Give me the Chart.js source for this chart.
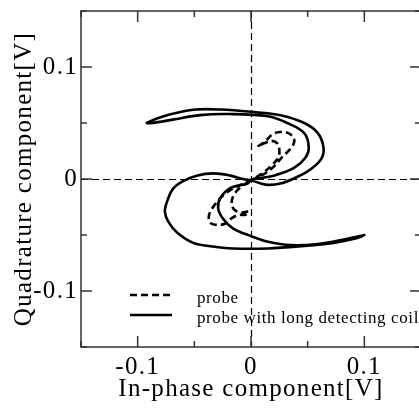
<!DOCTYPE html>
<html>
<head>
<meta charset="utf-8">
<script src="https://cdn.jsdelivr.net/npm/chart.js@4"></script>
<style>
  html, body { margin: 0; padding: 0; background: #fff; overflow: hidden; }
  #wrap { width: 419px; height: 412px; overflow: hidden; }
  #c { display: block; }
</style>
</head>
<body>
<div id="wrap"><canvas id="c" width="424" height="412"></canvas></div>
<script>
// Lissajous traces (in-phase vs quadrature voltage), one closed loop per sensor.
const probeX = [0.000, 0.007, 0.014, 0.021, 0.027, 0.032, 0.037, 0.038, 0.033, 0.026, 0.019, 0.013, 0.006,
                0.012, 0.018, 0.023, 0.025, 0.024, 0.018, 0.010, 0.000,
                -0.009, -0.017, -0.025, -0.032, -0.037, -0.036, -0.030, -0.023, -0.017, -0.011, -0.005, -0.002,
                -0.008, -0.014, -0.017, -0.016, -0.012, -0.006, 0.000];
const probeY = [-0.001, 0.002, 0.006, 0.012, 0.019, 0.024, 0.030, 0.036, 0.041, 0.042, 0.040, 0.034, 0.029,
                0.032, 0.034, 0.032, 0.026, 0.019, 0.012, 0.005, -0.001,
                -0.005, -0.009, -0.015, -0.023, -0.032, -0.039, -0.041, -0.040, -0.035, -0.032, -0.032, -0.029,
                -0.030, -0.028, -0.023, -0.016, -0.010, -0.005, -0.001];

const longCoilX = [0.000, 0.013, 0.026, 0.041, 0.053, 0.062, 0.064, 0.059, 0.047, 0.026, 0.000, -0.027, -0.049,
                   -0.070, -0.083, -0.090, -0.092, -0.087, -0.069, -0.045, -0.020, 0.015, 0.032, 0.047, 0.051,
                   0.048, 0.038, 0.020, 0.000,
                   -0.003, -0.018, -0.027, -0.029, -0.025, -0.016, 0.000, 0.015, 0.035, 0.059, 0.082, 0.096, 0.100,
                   0.093, 0.073, 0.044, 0.015, -0.016, -0.036, -0.051, -0.065, -0.073, -0.076, -0.074, -0.069,
                   -0.060, -0.048, -0.033, -0.018, -0.007, 0.000];
const longCoilY = [-0.001, -0.005, -0.004, 0.002, 0.009, 0.018, 0.028, 0.041, 0.050, 0.057, 0.060, 0.062, 0.062,
                   0.058, 0.054, 0.051, 0.050, 0.050, 0.053, 0.057, 0.058, 0.056, 0.050, 0.041, 0.028,
                   0.019, 0.010, 0.003, -0.001,
                   -0.004, -0.008, -0.017, -0.026, -0.035, -0.044, -0.051, -0.056, -0.059, -0.058, -0.054, -0.051, -0.050,
                   -0.053, -0.057, -0.060, -0.062, -0.062, -0.060, -0.057, -0.048, -0.038, -0.029, -0.020, -0.009,
                   -0.002, 0.003, 0.005, 0.003, 0.000, -0.001];

const seriesLabels = ['probe', 'probe with long detecting coil'];
const seriesDash = [[7, 4], []];
const xTitle = 'In-phase component[V]';
const yTitle = 'Quadrature component[V]';
const axisMin = -0.15;
const axisMax = 0.15;
const minorStep = 0.05;
const labelledTicks = [-0.1, 0, 0.1];

const FONT = 'Liberation Serif';

function isLabelled(v) {
  return labelledTicks.some(t => Math.abs(t - v) < 1e-9);
}
function tickText(v) {
  if (!isLabelled(v)) return '';
  return Math.abs(v) < 1e-9 ? '0' : v.toFixed(1);
}
function toPoints(xs, ys) {
  return xs.map((x, i) => ({ x: x, y: ys[i] }));
}

// Box frame, inward tick marks and the dashed zero lines.
const framePlugin = {
  id: 'frame',
  beforeDraw(chart) {
    chart.ctx.letterSpacing = '1.3px';
  },
  beforeDatasetsDraw(chart) {
    const { ctx, chartArea: a, scales: { x, y } } = chart;
    const px0 = Math.round(x.getPixelForValue(0)) + 0.5;
    const py0 = Math.round(y.getPixelForValue(0)) + 0.5;
    ctx.save();
    ctx.strokeStyle = '#000';
    ctx.lineWidth = 1.2;
    ctx.setLineDash([7, 4]);
    ctx.beginPath();
    ctx.moveTo(px0, a.top);
    ctx.lineTo(px0, a.bottom);
    ctx.moveTo(a.left, py0);
    ctx.lineTo(a.right, py0);
    ctx.stroke();
    ctx.restore();
  },
  afterDatasetsDraw(chart) {
    const { ctx, chartArea: a, scales: { x, y } } = chart;
    ctx.save();
    ctx.strokeStyle = '#333';
    ctx.lineWidth = 1.5;
    ctx.setLineDash([]);
    ctx.strokeRect(a.left, a.top, a.right - a.left, a.bottom - a.top);
    ctx.beginPath();
    x.ticks.forEach(t => {
      const p = x.getPixelForValue(t.value);
      const len = isLabelled(t.value) ? 11 : 6;
      ctx.moveTo(p, a.bottom); ctx.lineTo(p, a.bottom - len);
      ctx.moveTo(p, a.top); ctx.lineTo(p, a.top + len);
    });
    y.ticks.forEach(t => {
      const p = y.getPixelForValue(t.value);
      const len = isLabelled(t.value) ? 11 : 6;
      ctx.moveTo(a.left, p); ctx.lineTo(a.left + len, p);
      ctx.moveTo(a.right, p); ctx.lineTo(a.right - len, p);
    });
    ctx.stroke();
    ctx.restore();
  }
};

// Legend drawn inside the plot area, lower left.
const insideLegend = {
  id: 'insideLegend',
  afterDraw(chart) {
    const { ctx, chartArea: a } = chart;
    ctx.save();
    ctx.letterSpacing = '0.6px';
    ctx.font = '17px "' + FONT + '"';
    ctx.fillStyle = '#000';
    ctx.textAlign = 'left';
    ctx.textBaseline = 'alphabetic';
    chart.data.datasets.forEach((ds, i) => {
      const ly = a.bottom - 52 + i * 20;
      ctx.strokeStyle = ds.borderColor;
      ctx.lineWidth = ds.borderWidth;
      ctx.setLineDash(ds.borderDash || []);
      ctx.beginPath();
      ctx.moveTo(a.left + 49, ly);
      ctx.lineTo(a.left + 91, ly);
      ctx.stroke();
      ctx.fillText(ds.label, a.left + 116, ly + 8);
    });
    ctx.restore();
  }
};

function noEdgePadding(s) {
  s.paddingTop = 0;
  s.paddingBottom = 0;
  s.paddingLeft = 0;
  s.paddingRight = 0;
}

const ctx = document.getElementById('c').getContext('2d');
new Chart(ctx, {
  type: 'scatter',
  data: {
    datasets: [
      {
        label: seriesLabels[0],
        data: toPoints(probeX, probeY),
        showLine: true,
        borderColor: '#000',
        borderWidth: 2.6,
        borderDash: seriesDash[0],
        pointRadius: 0,
        tension: 0.35,
        fill: false
      },
      {
        label: seriesLabels[1],
        data: toPoints(longCoilX, longCoilY),
        showLine: true,
        borderColor: '#000',
        borderWidth: 2.6,
        borderDash: seriesDash[1],
        pointRadius: 0,
        tension: 0.35,
        fill: false
      }
    ]
  },
  options: {
    responsive: false,
    animation: false,
    events: [],
    layout: { padding: { top: 11, right: 3, left: 0, bottom: 0 } },
    plugins: { legend: { display: false }, tooltip: { enabled: false } },
    scales: {
      x: {
        type: 'linear',
        min: axisMin,
        max: axisMax,
        grid: { display: false, drawTicks: false },
        border: { display: false },
        ticks: {
          stepSize: minorStep,
          autoSkip: false,
          maxRotation: 0,
          padding: 5,
          color: '#000',
          font: { family: FONT, size: 25 },
          callback: v => tickText(v)
        },
        title: {
          display: true,
          text: xTitle,
          color: '#000',
          font: { family: FONT, size: 25 },
          padding: { top: 0, bottom: 8 }
        },
        afterFit(s) { s.height = 65; noEdgePadding(s); }
      },
      y: {
        type: 'linear',
        min: axisMin,
        max: axisMax,
        grid: { display: false, drawTicks: false },
        border: { display: false },
        ticks: {
          stepSize: minorStep,
          autoSkip: false,
          padding: 3,
          color: '#000',
          font: { family: FONT, size: 25 },
          callback: v => tickText(v)
        },
        title: {
          display: true,
          text: yTitle,
          color: '#000',
          font: { family: FONT, size: 25 },
          padding: { top: 9, bottom: 0 }
        },
        afterFit(s) { s.width = 81; noEdgePadding(s); }
      }
    }
  },
  plugins: [framePlugin, insideLegend]
});
</script>
</body>
</html>
